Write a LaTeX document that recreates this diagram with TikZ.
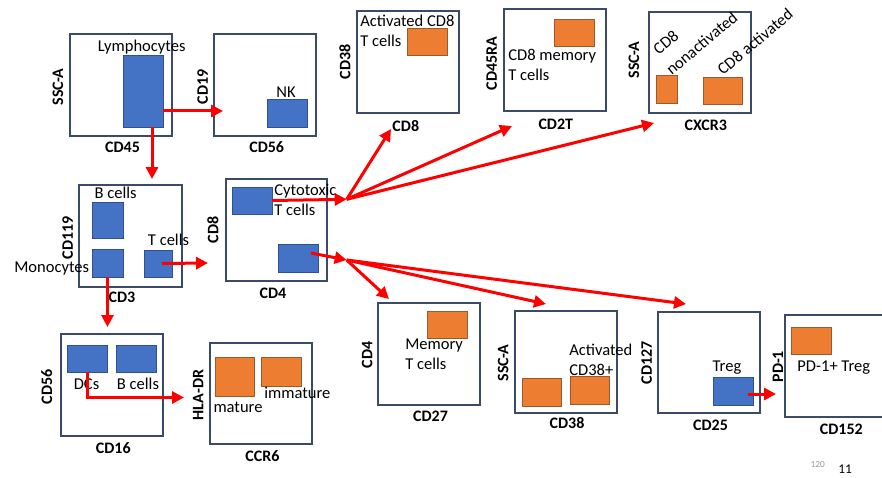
\documentclass[tikz,border=0pt]{standalone}
\usepackage{fontspec}
\setmainfont{Carlito}
\usetikzlibrary{arrows.meta,calc,fit}
\definecolor{framec}{HTML}{3A4A68}
\definecolor{gateblue}{HTML}{4472C4}
\definecolor{gatebluedk}{HTML}{2F528F}
\definecolor{gateorange}{HTML}{ED7D31}
\definecolor{gateorangedk}{HTML}{9C5A2C}
\definecolor{arrowred}{HTML}{FF0000}
\begin{document}
\begin{tikzpicture}[x=0.75pt,y=-0.75pt,
    panel/.style={rectangle, draw=framec, line width=1.5pt, inner sep=0pt},
    gate/.style={rectangle, draw=gatebluedk, fill=gateblue, line width=0.6pt, inner sep=0pt},
    ogate/.style={rectangle, draw=gateorangedk, fill=gateorange, line width=0.6pt, inner sep=0pt},
    axlbl/.style={font=\fontsize{12}{14}\selectfont\bfseries, inner sep=0pt},
    yaxlbl/.style={axlbl, rotate=90},
    lbl/.style={font=\fontsize{12.4}{15}\selectfont, inner sep=0pt, align=left},
    flow/.style={draw=arrowred, line width=2.25pt, -{Triangle[length=9pt,width=9pt]}}
]
\clip (0,0) rectangle (882,478);
\fill[white] (0,0) rectangle (882,478);

\node[panel, fit={(70,34) (172,136)}] (p45) {};
\node[gate, fit={(123,55) (163,127)}] (lymph) {};
\node[lbl] at (141.7,47) {Lymphocytes};
\node[yaxlbl] at (58,87) {SSC-A};
\node[axlbl] at (122.5,147) {CD45};

\node[panel, fit={(214,34) (316,136)}] (p56) {};
\node[gate, fit={(267,99) (307,127)}] (nk) {};
\node[lbl] at (286,92) {NK};
\node[yaxlbl] at (202.7,87) {CD19};
\node[axlbl] at (266.7,147) {CD56};

\node[panel, fit={(79,185) (182,287)}] (p3) {};
\node[gate, fit={(92,202) (123,238)}] (bcell) {};
\node[gate, fit={(92,249) (123,277)}] (mono) {};
\node[gate, fit={(144,250) (172,277)}] (tcell) {};
\node[lbl] at (115.7,192.7) {B cells};
\node[lbl] at (168.5,240) {T cells};
\node[lbl] at (51.7,269) {Monocytes};
\node[yaxlbl] at (67.7,238) {CD119};
\node[axlbl] at (122,297) {CD3};

\node[panel, fit={(226,179) (327,281)}] (p4) {};
\node[gate, fit={(232,187) (272,214)}] (cyto) {};
\node[gate, fit={(278,244) (318,272)}] (cd4g) {};
\node[lbl, anchor=west] at (274,200) {Cytotoxic\\T cells};
\node[yaxlbl] at (213,230) {CD8};
\node[axlbl] at (273,293) {CD4};

\node[panel, fit={(61,334) (163,436)}] (p16) {};
\node[gate, fit={(67,345) (107,372)}] (dcs) {};
\node[gate, fit={(116,345) (156,372)}] (bcell2) {};
\node[lbl] at (86.5,384) {DCs};
\node[lbl] at (138,384) {B cells};
\node[yaxlbl] at (46.7,386.7) {CD56};
\node[axlbl] at (113.3,447.7) {CD16};

\node[panel, fit={(210,343) (312,444)}] (pccr) {};
\node[ogate, fit={(215,357) (254,396)}] (mat) {};
\node[ogate, fit={(261,357) (301,386)}] (immat) {};
\node[lbl] at (238,407.3) {mature};
\node[lbl] at (297.3,392.7) {immature};
\node[yaxlbl] at (198.3,395) {HLA-DR};
\node[axlbl] at (262.5,456) {CCR6};

\node[panel, fit={(357,11) (459,113)}] (p8) {};
\node[ogate, fit={(407,28) (447,55)}] (act8) {};
\node[lbl, anchor=west] at (360,31.3) {Activated CD8\\T cells};
\node[yaxlbl] at (345,61.7) {CD38};
\node[axlbl] at (405.8,126) {CD8};

\node[panel, fit={(504,9) (606,111)}] (p2t) {};
\node[ogate, fit={(554,19) (594,46)}] (mem8) {};
\node[lbl, anchor=west] at (508,64.5) {CD8 memory\\T cells};
\node[yaxlbl] at (491.7,63.3) {CD45RA};
\node[axlbl] at (555.8,124) {CD2T};

\node[panel, fit={(649,12) (751,113)}] (pcx) {};
\node[ogate, fit={(656,75) (677,103)}] (nonact) {};
\node[ogate, fit={(703,77) (742,104)}] (act) {};
\node[lbl, rotate=40] at (665.7,42.5) {CD8};
\node[lbl, rotate=40] at (701.7,43.3) {nonactivated};
\node[lbl, rotate=40] at (755,41.7) {CD8 activated};
\node[yaxlbl] at (634,60) {SSC-A};
\node[axlbl] at (705.8,125.7) {CXCR3};

\node[panel, fit={(378,303) (480,405)}] (p27) {};
\node[ogate, fit={(427,311) (467,338)}] (mem4) {};
\node[lbl, anchor=west] at (405,354) {Memory\\T cells};
\node[yaxlbl] at (367.3,355) {CD4};
\node[axlbl] at (430.5,416.7) {CD27};

\node[panel, fit={(515,311) (617,413)}] (p38) {};
\node[ogate, fit={(522,378) (561,406)}] (neg38) {};
\node[ogate, fit={(570,376) (609,404)}] (pos38) {};
\node[lbl, anchor=west] at (569,360) {Activated\\CD38+};
\node[yaxlbl] at (503.3,363) {SSC-A};
\node[axlbl] at (567,423) {CD38};

\node[panel, fit={(658,312) (760,413)}] (p25) {};
\node[gate, fit={(713,377) (753,405)}] (treg) {};
\node[lbl] at (727,368) {Treg};
\node[yaxlbl] at (646.7,363) {CD127};
\node[axlbl] at (710.5,425.7) {CD25};

\node[panel, fit={(785,315) (890,417)}] (p152) {};
\node[ogate, fit={(791,327) (831,354)}] (pd1) {};
\node[lbl] at (833.7,368) {PD-1+ Treg};
\node[yaxlbl] at (778,366.7) {PD-1};
\node[axlbl] at (841.3,429.3) {CD152};

\node[font=\fontsize{7}{8}\selectfont, text=black!40, inner sep=0pt] (pg) at (817.7,465) {120};
\node[font=\fontsize{10}{12}\selectfont, inner sep=0pt] (sl) at (845,469.3) {11};

\coordinate (hubA) at (346.7,199.3);
\coordinate (hubB) at (346.7,260);

\draw[flow] ($(lymph.east)+(0,20)$) -- ($(p56.west)+(10,26)$);
\draw[flow] ($(lymph.south)+(9,0)$) -- ($(p3.north)+(21.5,-5)$);
\draw[flow] ($(tcell.center)+(4,0)$) -- ($(p4.west)+(-17,33)$);
\draw[flow] (mono.south) -- ($(p16.north)+(-4.5,-6)$);
\draw[flow] (dcs.south) |- ($(pccr.west)+(-25,4)$);
\draw[flow] (cyto.east) -- (hubA);
\draw[flow] (hubA) -- ($(p8.south west)+(35,15)$);
\draw[flow] (hubA) -- ($(p2t.south west)+(9,14)$);
\draw[flow] (hubA) -- ($(pcx.south west)+(6,9)$);
\draw[flow] ($(cd4g.center)+(13,-5)$) -- (hubB);
\draw[flow] (hubB) -- ($(p27.north west)+(12,-3)$);
\draw[flow] (hubB) -- ($(p38.north west)+(32,-6)$);
\draw[flow] (hubB) -- ($(p25.north west)+(29,-7)$);
\draw[flow] ($(treg.center)+(15,3)$) -- ($(p152.west)+(-8,28)$);
\end{tikzpicture}
\end{document}
